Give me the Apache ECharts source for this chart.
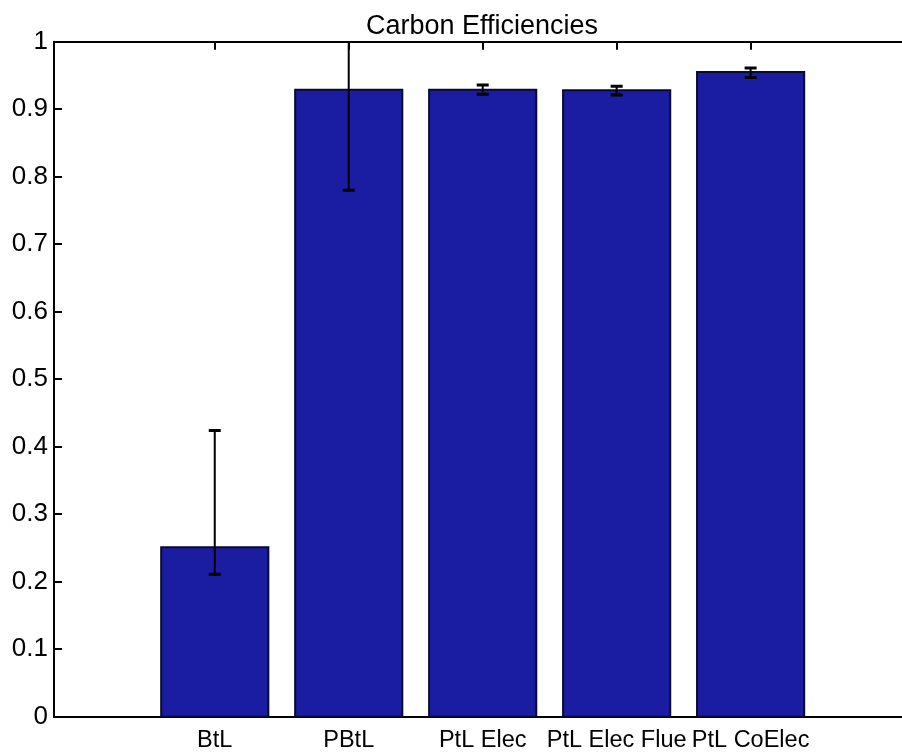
<!DOCTYPE html>
<html>
<head>
<meta charset="utf-8">
<script src="https://cdn.jsdelivr.net/npm/echarts@6/dist/echarts.min.js"></script>
<style>html,body{margin:0;padding:0;background:#fff}#c{width:902px;height:755px}</style>
</head>
<body>
<div id="c"></div>
<script>
const categories = ['BtL', 'PBtL', 'PtL Elec', 'PtL Elec Flue', 'PtL CoElec'];
const values = [0.251, 0.929, 0.929, 0.928, 0.955];
const errLow = [0.211, 0.780, 0.922, 0.921, 0.947];
const errHigh = [0.424, 1.08, 0.936, 0.934, 0.961];
const yTicks = [0, 0.1, 0.2, 0.3, 0.4, 0.5, 0.6, 0.7, 0.8, 0.9, 1];
const xPositions = categories.map((c, i) => i + 1);

const FONT = '"Liberation Sans", Arial, Helvetica, sans-serif';
const chart = echarts.init(document.getElementById('c'), null, {renderer: 'canvas'});

const barData = categories.map((c, i) => [xPositions[i], values[i]]);
const errData = categories.map((c, i) => [xPositions[i], errLow[i], errHigh[i]]);

const xAxisBase = {
  type: 'value', min: -0.2, max: 6.13,
  splitLine: {show: false},
  axisLine: {show: true, onZero: false, lineStyle: {color: '#000', width: 2}},
  axisTick: {show: true, inside: true, length: 8, customValues: xPositions, lineStyle: {color: '#000', width: 2}}
};

chart.setOption({
  animation: false,
  backgroundColor: '#fff',
  title: {
    text: 'Carbon Efficiencies', left: 361, top: 8,
    textStyle: {fontFamily: FONT, fontSize: 27, fontWeight: 'normal', color: '#000'}
  },
  grid: {left: 54, top: 41.7, right: 0, height: 675, containLabel: false},
  xAxis: [
    Object.assign({}, xAxisBase, {
      position: 'bottom',
      axisLabel: {
        show: true, customValues: xPositions, margin: 12,
        formatter: v => categories[Math.round(v) - 1] || '',
        fontFamily: FONT, fontSize: 23.5, color: '#000'
      }
    }),
    Object.assign({}, xAxisBase, {position: 'top', axisLabel: {show: false}})
  ],
  yAxis: {
    type: 'value', min: 0, max: 1, interval: 0.1,
    splitLine: {show: false},
    axisLine: {show: true, onZero: false, lineStyle: {color: '#000', width: 2}},
    axisTick: {show: true, inside: true, length: 8, lineStyle: {color: '#000', width: 2}},
    axisLabel: {
      fontFamily: FONT, fontSize: 26, color: '#000', margin: 6,
      formatter: v => String(Math.round(v * 10) / 10)
    }
  },
  series: [
    {
      type: 'custom', xAxisIndex: 0, yAxisIndex: 0, clip: true,
      encode: {x: 0, y: 1},
      data: barData,
      renderItem: function (params, api) {
        const x = api.value(0), y = api.value(1);
        const p1 = api.coord([x - 0.4, y]);
        const p2 = api.coord([x + 0.4, 0]);
        return {
          type: 'rect',
          shape: {x: p1[0], y: p1[1], width: p2[0] - p1[0], height: p2[1] - p1[1]},
          style: {fill: '#1a1ca2', stroke: '#0a0a30', lineWidth: 2}
        };
      }
    },
    {
      type: 'custom', xAxisIndex: 0, yAxisIndex: 0, clip: true,
      encode: {x: 0, y: [1, 2]},
      data: errData,
      z: 5,
      renderItem: function (params, api) {
        const x = api.value(0), lo = api.value(1), hi = api.value(2);
        const a = api.coord([x, lo]);
        const b = api.coord([x, hi]);
        const half = 6;
        const st = {stroke: '#000', lineWidth: 2};
        return {
          type: 'group',
          children: [
            {type: 'line', shape: {x1: a[0], y1: a[1], x2: b[0], y2: b[1]}, style: st},
            {type: 'line', shape: {x1: a[0] - half, y1: a[1], x2: a[0] + half, y2: a[1]}, style: {stroke: '#000', lineWidth: 3}},
            {type: 'line', shape: {x1: b[0] - half, y1: b[1], x2: b[0] + half, y2: b[1]}, style: {stroke: '#000', lineWidth: 3}}
          ]
        };
      }
    }
  ]
});
</script>
</body>
</html>
